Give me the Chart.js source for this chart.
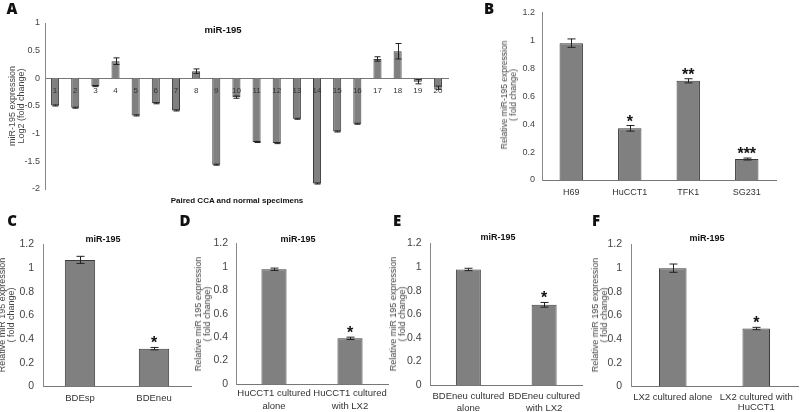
<!DOCTYPE html>
<html><head><meta charset="utf-8">
<script src="https://cdn.jsdelivr.net/npm/chart.js@4"></script>
<style>
body{margin:0;background:#fff;width:800px;height:412px;overflow:hidden;position:relative;font-family:'Liberation Sans',Arial,sans-serif;}
canvas{position:absolute;}
.t{position:absolute;white-space:nowrap;transform:translate(-50%,-50%);color:#222;z-index:5;}
.let{font-family:'Open Sans','Liberation Sans',sans-serif;font-weight:800;font-size:15px;color:#111;}
.ttl{font-weight:bold;font-size:9px;color:#111;}
.yt{transform:translate(-50%,-50%) rotate(-90deg);text-align:center;color:#444;line-height:9px;font-size:9px;}
</style></head><body>
<div class="t let" style="left:12px;top:8px">A</div>
<div class="t let" style="left:489px;top:8px">B</div>
<div class="t let" style="left:12px;top:220px">C</div>
<div class="t let" style="left:185px;top:220px">D</div>
<div class="t let" style="left:397px;top:220px">E</div>
<div class="t let" style="left:596px;top:220px">F</div>

<div class="t ttl" style="left:223px;top:29px;font-size:9.5px">miR-195</div>
<div class="t ttl" style="left:103px;top:239px">miR-195</div>
<div class="t ttl" style="left:298px;top:239px">miR-195</div>
<div class="t ttl" style="left:498px;top:237px">miR-195</div>
<div class="t ttl" style="left:707px;top:238px">miR-195</div>
<div class="t ttl" style="left:237px;top:200px;font-size:8px">Paired CCA and normal specimens</div>

<div class="t yt" style="left:17px;top:106px">miR-195 expression<br>Log2 (fold change)</div>
<div class="t yt" style="left:509px;top:95px;font-size:8.5px">Relative miR-195 expression<br>( fold change)</div>
<div class="t yt" style="left:7px;top:315px">Relative miR 195 expression<br>( fold change)</div>
<div class="t yt" style="left:203px;top:314px">Relative miR 195 expression<br>( fold change)</div>
<div class="t yt" style="left:398px;top:314px">Relative miR 195 expression<br>( fold change)</div>
<div class="t yt" style="left:600px;top:315px">Relative miR 195 expression<br>( fold change)</div>

<script>
// ---- data ----
const catsA = ['1','2','3','4','5','6','7','8','9','10','11','12','13','14','15','16','17','18','19','20'];
const valsA = [-0.49,-0.53,-0.14,0.31,-0.67,-0.45,-0.58,0.13,-1.56,-0.34,-1.15,-1.17,-0.73,-1.90,-0.96,-0.82,0.35,0.49,-0.06,-0.17];
const errA  = [0.01,0.01,0.01,0.06,0.01,0.01,0.01,0.04,0.01,0.02,0.01,0.01,0.01,0.01,0.01,0.01,0.04,0.14,0.04,0.03];

const catsB = ['H69','HuCCT1','TFK1','SG231'];
const valsB = [0.98,0.37,0.71,0.15];
const errB  = [0.03,0.02,0.015,0.007];
const starsB = ['','*','**','***'];

const catsC = ['BDEsp','BDEneu'];
const valsC = [1.07,0.32];
const errC  = [0.03,0.01];
const starsC = ['','*'];

const catsD = [['HuCCT1 cultured','alone'],['HuCCT1 cultured','with LX2']];
const valsD = [0.98,0.39];
const errD  = [0.01,0.01];
const starsD = ['','*'];

const catsE = [['BDEneu cultured','alone'],['BDEneu cultured','with LX2']];
const valsE = [0.98,0.68];
const errE  = [0.01,0.02];
const starsE = ['','*'];

const catsF = ['LX2 cultured alone',['LX2 cultured with','HuCCT1']];
const valsF = [1.00,0.49];
const errF  = [0.035,0.01];
const starsF = ['','*'];

// ---- drawing ----
Chart.defaults.font.family = "'Liberation Sans', Arial, sans-serif";

const errPlugin = {
  id: 'errbars',
  afterDatasetsDraw(chart, args, o) {
    if (!o || !o.errs) return;
    const ctx = chart.ctx, ys = chart.scales.y;
    const meta = chart.getDatasetMeta(0);
    const data = chart.data.datasets[0].data;
    ctx.save();
    ctx.strokeStyle = '#222'; ctx.lineWidth = 1;
    meta.data.forEach((bar, i) => {
      const v = data[i], e = o.errs[i];
      const x = Math.round(bar.x) + 0.5;
      const y1 = ys.getPixelForValue(v + e), y2 = ys.getPixelForValue(v - e);
      ctx.beginPath();
      ctx.moveTo(x, y1); ctx.lineTo(x, y2);
      ctx.moveTo(x - o.cap, y1); ctx.lineTo(x + o.cap, y1);
      ctx.moveTo(x - o.cap, y2); ctx.lineTo(x + o.cap, y2);
      ctx.stroke();
      if (o.stars && o.stars[i]) {
        ctx.fillStyle = '#111';
        ctx.font = 'bold 16px "Liberation Sans", Arial, sans-serif';
        ctx.textAlign = 'center'; ctx.textBaseline = 'alphabetic';
        ctx.fillText(o.stars[i], bar.x, Math.min(y1, y2) + o.starDy);
      }
    });
    ctx.restore();
  }
};
Chart.register(errPlugin);

const fmt = v => String(Math.round(v * 100) / 100);

function makePanel(box, area, labels, vals, errs, stars, o) {
  const cv = document.createElement('canvas');
  cv.width = box.w; cv.height = box.h;
  cv.style.left = box.x + 'px'; cv.style.top = box.y + 'px';
  cv.style.width = box.w + 'px'; cv.style.height = box.h + 'px';
  document.body.appendChild(cv);
  const yW = area.l - box.x;
  const padT = area.t - box.y;
  const padR = box.x + box.w - area.r;
  const xH = box.y + box.h - area.b;
  const xScale = {
    position: o.zeroAxis ? {y: 0} : 'bottom',
    grid: {display: false, drawTicks: false},
    border: {display: true, color: '#777'},
    ticks: {z: o.zeroAxis ? 2 : 0, autoSkip: false, maxRotation: 0, minRotation: 0, padding: o.xPad, color: '#333',
            font: {size: o.xFont, lineHeight: o.xLh || 1.25}}
  };
  if (!o.zeroAxis) xScale.afterFit = s => { s.height = xH; };
  new Chart(cv, {
    type: 'bar',
    data: {labels: labels, datasets: [{data: vals, backgroundColor: '#808080', borderColor: '#3c3c3c',
      borderWidth: 1, barPercentage: o.barPct, categoryPercentage: 1}]},
    options: {
      responsive: false, animation: false, devicePixelRatio: 1,
      layout: {padding: {top: padT, right: padR, left: 0, bottom: o.zeroAxis ? xH : 0}},
      plugins: {legend: {display: false}, tooltip: {enabled: false},
        errbars: {errs: errs, stars: stars, cap: o.cap, starDy: 1}},
      scales: {
        x: xScale,
        y: {min: o.min, max: o.max, grid: {display: false, drawTicks: false}, border: {display: true, color: '#888'},
            ticks: {stepSize: o.step, padding: o.yPad, color: '#444', font: {size: o.yFont}, callback: fmt},
            afterFit: s => { s.width = yW; }}
      }
    }
  });
}

makePanel({x:0,y:0,w:470,h:205}, {l:45,t:23,r:448,b:189}, catsA, valsA, errA, null,
  {zeroAxis:true, min:-2, max:1, step:0.5, barPct:0.4, cap:3, xPad:7, xFont:8, yPad:5, yFont:9});
makePanel({x:480,y:0,w:320,h:205}, {l:542,t:11,r:776,b:180}, catsB, valsB, errB, starsB,
  {min:0, max:1.2, step:0.2, barPct:0.4, cap:4, xPad:7, xFont:9, yPad:7, yFont:9});
makePanel({x:0,y:205,w:198,h:207}, {l:43,t:244.5,r:191,b:386.5}, catsC, valsC, errC, starsC,
  {min:0, max:1.2, step:0.2, barPct:0.41, cap:4, xPad:6, xFont:9.5, xLh:1.25, yPad:9, yFont:10.5});
makePanel({x:198,y:205,w:200,h:207}, {l:236,t:243.5,r:388,b:384}, catsD, valsD, errD, starsD,
  {min:0, max:1.2, step:0.2, barPct:0.33, cap:4, xPad:3, xFont:9.5, xLh:1.37, yPad:8, yFont:10.5});
makePanel({x:398,y:205,w:200,h:207}, {l:430.5,t:243.5,r:582,b:385}, catsE, valsE, errE, starsE,
  {min:0, max:1.2, step:0.2, barPct:0.33, cap:4, xPad:5, xFont:9.5, xLh:1.26, yPad:9, yFont:10.5});
makePanel({x:598,y:205,w:202,h:207}, {l:631,t:244.5,r:798,b:386.5}, catsF, valsF, errF, starsF,
  {min:0, max:1.2, step:0.2, barPct:0.33, cap:4, xPad:6, xFont:9.5, xLh:1.05, yPad:9, yFont:10.5});
</script>
</body></html>
